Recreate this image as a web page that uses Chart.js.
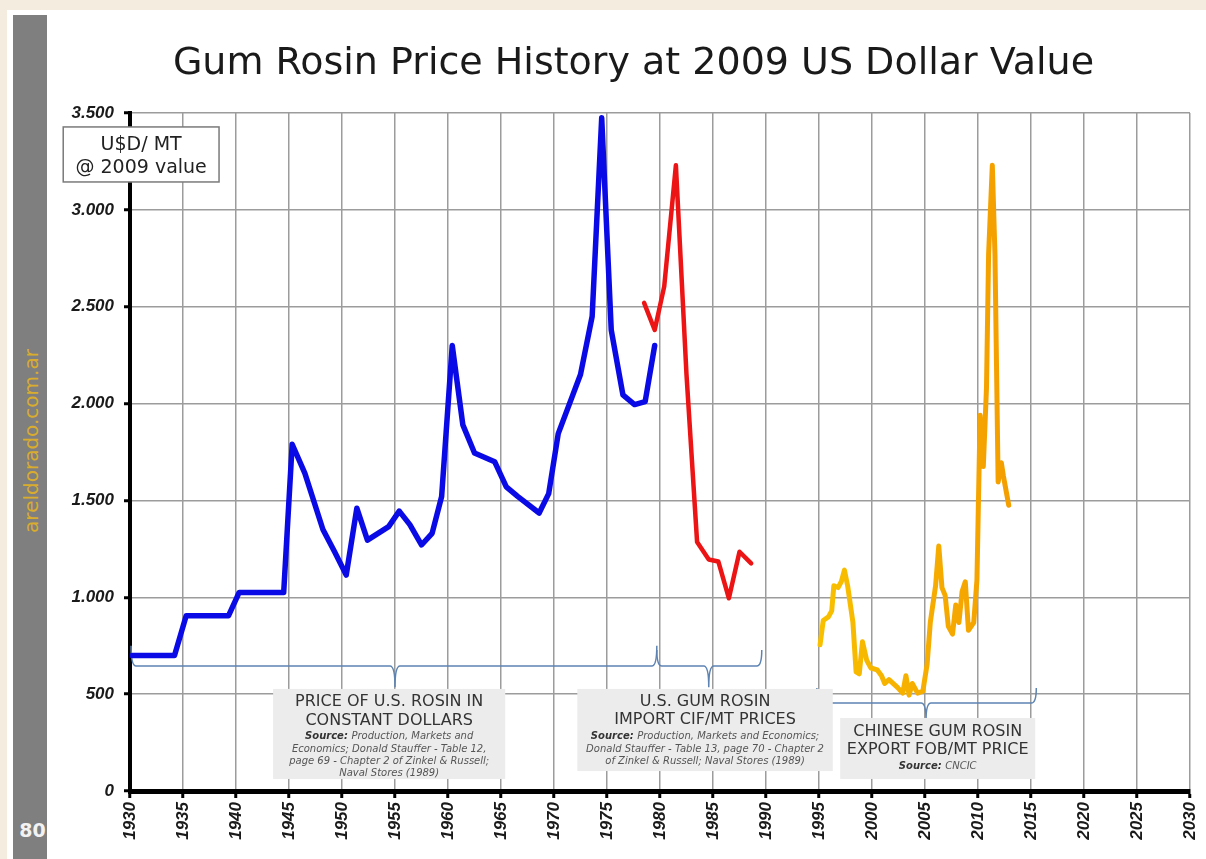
<!DOCTYPE html>
<html>
<head>
<meta charset="utf-8">
<title>Gum Rosin Price History</title>
<script src="https://cdn.jsdelivr.net/npm/chart.js@4.4.1/dist/chart.umd.min.js"></script>
<style>
  html, body { margin: 0; padding: 0; }
  body {
    width: 1206px; height: 859px; overflow: hidden; position: relative;
    background: #f3ecdf; font-family: "DejaVu Sans", Verdana, sans-serif;
  }
  #page { position: absolute; left: 7px; top: 10px; right: 0; bottom: 0; background: #fff; }
  #side { position: absolute; left: 13px; top: 15px; width: 34px; bottom: 0; background: #7f7f7f; }
  #side .site {
    position: absolute; left: 18px; top: 426px; white-space: nowrap;
    transform: translate(-50%, -50%) rotate(-90deg);
    color: #d9ac2e; font-size: 20px;
  }
  #side .num {
    position: absolute; left: 0; width: 39px; top: 804px; text-align: center;
    color: #f2f2f2; font-size: 19px; font-weight: bold;
  }
  #wrap { position: absolute; left: 61px; top: 10px; width: 1145px; height: 849px; }
</style>
</head>
<body>
<div id="page"></div>
<div id="side"><div class="site">areldorado.com.ar</div><div class="num">80</div></div>
<div id="wrap"><canvas id="chartRosin" width="1145" height="849"></canvas></div>
<script>
// Data (US$/MT at 2009 value)
const chartTitle = "Gum Rosin Price History at 2009 US Dollar Value";
const yearTicks = [1930, 1935, 1940, 1945, 1950, 1955, 1960, 1965, 1970, 1975, 1980,
  1985, 1990, 1995, 2000, 2005, 2010, 2015, 2020, 2025, 2030];
const priceTicks = [0, 500, 1000, 1500, 2000, 2500, 3000, 3500];

// US rosin, constant dollars
const usYears = [1930.2, 1934.2, 1935.3, 1939.3, 1940.3, 1944.5, 1945.3, 1946.5, 1948.2,
  1949.3, 1950.4, 1951.4, 1952.4, 1954.4, 1955.4, 1956.4, 1957.5, 1958.5, 1959.4, 1960.4,
  1961.4, 1962.5, 1964.4, 1965.5, 1966.6, 1968.6, 1969.5, 1970.4, 1972.5, 1973.6, 1974.5,
  1975.4, 1976.5, 1977.6, 1978.6, 1979.5];
const usValues = [700, 700, 905, 905, 1025, 1025, 1790, 1640, 1350,
  1235, 1115, 1460, 1295, 1365, 1445, 1375, 1270, 1330, 1520, 2300,
  1890, 1745, 1700, 1570, 1520, 1435, 1535, 1845, 2150, 2450, 3475,
  2380, 2045, 1995, 2010, 2300];

// US gum rosin import CIF
const importYears = [1978.5, 1979.5, 1980.4, 1981.5, 1982.5, 1983.5, 1984.6, 1985.5, 1986.5, 1987.5, 1988.6];
const importValues = [2520, 2380, 2605, 3230, 2150, 1285, 1195, 1185, 995, 1235, 1175];

// Chinese gum rosin export FOB
const chinaYears = [1995.1, 1995.4, 1995.9, 1996.2, 1996.4, 1996.8, 1997.1, 1997.4, 1997.7, 1998.2,
  1998.5, 1998.8, 1999.1, 1999.5, 1999.9, 2000.5, 2000.9, 2001.2, 2001.6, 2002.4,
  2002.9, 2003.2, 2003.5, 2003.8, 2004.3, 2004.8, 2005.2, 2005.5, 2006.0, 2006.3,
  2006.6, 2006.9, 2007.2, 2007.6, 2007.9, 2008.2, 2008.5, 2008.8, 2009.1, 2009.6,
  2009.9, 2010.2, 2010.5, 2010.8, 2011.0, 2011.35, 2011.6, 2011.9, 2012.2, 2012.4, 2012.9];
const chinaValues = [755, 880, 900, 930, 1060, 1050, 1080, 1140, 1060, 870,
  615, 605, 770, 675, 635, 625, 595, 555, 575, 535,
  505, 595, 495, 555, 505, 515, 655, 870, 1060, 1265,
  1050, 1010, 850, 810, 960, 870, 1030, 1080, 830, 870,
  1090, 1940, 1675, 2080, 2770, 3230, 2770, 1595, 1695, 1625, 1475];

const toPoints = (xs, ys) => xs.map((x, i) => ({ x: x, y: ys[i] }));

// Curly brackets under each series (year span, tip, value levels)
const brackets = [
  { from: 1930.1, to: 1979.7, tip: 1955.0, level: 645, ends: 750, point: 535 },
  { from: 1979.7, to: 1989.6, tip: 1984.6, level: 645, ends: 728, point: 535 },
  { from: 1994.8, to: 2015.5, tip: 2005.1, level: 454, ends: 532, point: 367 },
];

// Grey note boxes (year span, value span, lines with offset from box top)
const notes = [
  { x0: 1943.5, x1: 1965.4, top: 527, bottom: 62, lines: [
    ["h", "PRICE OF U.S. ROSIN IN", 13], ["h", "CONSTANT DOLLARS", 32],
    ["s", "Production, Markets and", 47, true], ["s", "Economics; Donald Stauffer - Table 12,", 60],
    ["s", "page 69 - Chapter 2 of Zinkel & Russell;", 72], ["s", "Naval Stores (1989)", 84] ] },
  { x0: 1972.2, x1: 1996.3, top: 527, bottom: 103, lines: [
    ["h", "U.S. GUM ROSIN", 13], ["h", "IMPORT CIF/MT PRICES", 31],
    ["s", "Production, Markets and Economics;", 47, true],
    ["s", "Donald Stauffer - Table 13, page 70 - Chapter 2", 60],
    ["s", "of Zinkel & Russell; Naval Stores (1989)", 72] ] },
  { x0: 1997.0, x1: 2015.4, top: 377, bottom: 62, lines: [
    ["h", "CHINESE GUM ROSIN", 14], ["h", "EXPORT FOB/MT PRICE", 32],
    ["s", "CNCIC", 48, true] ] },
];

function drawBracket(ctx, x0, x1, xt, yl, ye, yp) {
  const r = 5;
  ctx.beginPath();
  ctx.moveTo(x0, ye);
  ctx.quadraticCurveTo(x0, yl, x0 + r, yl);
  ctx.lineTo(xt - r, yl);
  ctx.quadraticCurveTo(xt, yl, xt, yp);
  ctx.quadraticCurveTo(xt, yl, xt + r, yl);
  ctx.lineTo(x1 - r, yl);
  ctx.quadraticCurveTo(x1, yl, x1, ye);
  ctx.stroke();
}

const notesPlugin = {
  id: "notes",
  beforeDatasetsDraw(chart) {
    const { ctx } = chart;
    const { x, y } = chart.scales;
    ctx.save();
    // title, centred on the page rather than on the canvas
    ctx.fillStyle = "#1a1a1a";
    ctx.font = '38px "DejaVu Sans"';
    ctx.textAlign = "center";
    ctx.textBaseline = "middle";
    ctx.fillText(chartTitle, 572.5, 54);

    ctx.strokeStyle = "#5d83b2";
    ctx.lineWidth = 1.5;
    brackets.forEach((b) => {
      drawBracket(ctx, x.getPixelForValue(b.from), x.getPixelForValue(b.to), x.getPixelForValue(b.tip),
        y.getPixelForValue(b.level), y.getPixelForValue(b.ends), y.getPixelForValue(b.point));
    });
    ctx.restore();
  },
  afterDatasetsDraw(chart) {
    const { ctx } = chart;
    const { x, y } = chart.scales;
    ctx.save();
    notes.forEach((n) => {
      const left = x.getPixelForValue(n.x0), right = x.getPixelForValue(n.x1);
      const top = y.getPixelForValue(n.top), bottom = y.getPixelForValue(n.bottom);
      const cx = (left + right) / 2;
      ctx.fillStyle = "#ececec";
      ctx.fillRect(left, top, right - left, bottom - top);
      ctx.textBaseline = "middle";
      n.lines.forEach(([kind, text, dy, src]) => {
        if (kind === "h") {
          ctx.font = '16px "DejaVu Sans"';
          ctx.fillStyle = "#333";
          ctx.textAlign = "center";
          ctx.fillText(text, cx, top + dy);
          return;
        }
        const bold = 'bold italic 10px "DejaVu Sans"';
        const ital = 'italic 10px "DejaVu Sans"';
        const lead = src ? "Source: " : "";
        ctx.font = bold;
        const w1 = ctx.measureText(lead).width;
        ctx.font = ital;
        const w2 = ctx.measureText(text).width;
        let sx = cx - (w1 + w2) / 2;
        ctx.textAlign = "left";
        if (lead) {
          ctx.font = bold;
          ctx.fillStyle = "#333";
          ctx.fillText(lead, sx, top + dy);
          sx += w1;
        }
        ctx.font = ital;
        ctx.fillStyle = "#555";
        ctx.fillText(text, sx, top + dy);
      });
    });

    // unit box on the y axis
    const bl = x.getPixelForValue(1923.7), br = x.getPixelForValue(1938.4);
    const bt = y.getPixelForValue(3428), bb = y.getPixelForValue(3144);
    ctx.fillStyle = "#fff";
    ctx.fillRect(bl, bt, br - bl, bb - bt);
    ctx.strokeStyle = "#7a7a7a";
    ctx.lineWidth = 1.5;
    ctx.strokeRect(bl, bt, br - bl, bb - bt);
    ctx.fillStyle = "#222";
    ctx.font = '19px "DejaVu Sans"';
    ctx.textAlign = "center";
    ctx.textBaseline = "middle";
    ctx.fillText("U$D/ MT", (bl + br) / 2, bt + 18);
    ctx.fillText("@ 2009 value", (bl + br) / 2, bt + 41);
    ctx.restore();
  },
};

const tickFont = { family: "Liberation Sans", size: 17, style: "italic", weight: "bold" };

const ctx = document.getElementById("chartRosin").getContext("2d");
new Chart(ctx, {
  type: "line",
  data: {
    datasets: [
      {
        label: "Price of U.S. rosin in constant dollars",
        data: toPoints(usYears, usValues),
        borderColor: "#0a0ae6",
        borderWidth: 5.5,
      },
      {
        label: "U.S. gum rosin import CIF/MT",
        data: toPoints(importYears, importValues),
        borderColor: "#ec1414",
        borderWidth: 4.5,
      },
      {
        label: "Chinese gum rosin export FOB/MT",
        data: toPoints(chinaYears, chinaValues),
        borderColor: (c) => {
          const { chart } = c;
          if (!chart.chartArea) return "#f5ab00";
          const x = chart.scales.x;
          const g = chart.ctx.createLinearGradient(x.getPixelForValue(1995), 0, x.getPixelForValue(2013), 0);
          g.addColorStop(0, "#f8c000");
          g.addColorStop(1, "#f49e00");
          return g;
        },
        borderWidth: 5,
      },
    ],
  },
  options: {
    responsive: false,
    animation: false,
    elements: {
      point: { radius: 0 },
      line: { tension: 0, borderJoinStyle: "round", borderCapStyle: "round" },
    },
    layout: { padding: { left: 0, right: 16, top: 103, bottom: 0 } },
    plugins: {
      legend: { display: false },
      tooltip: { enabled: false },
      title: { display: false },
    },
    scales: {
      x: {
        type: "linear",
        min: 1930,
        max: 2030,
        afterBuildTicks: (s) => { s.ticks = yearTicks.map((v) => ({ value: v })); },
        afterFit: (s) => { s.height = 68; s.paddingLeft = 0; s.paddingRight = 0; },
        ticks: {
          autoSkip: false,
          minRotation: 90,
          maxRotation: 90,
          padding: 4,
          color: "#1a1a1a",
          font: tickFont,
          callback: (v) => String(v),
        },
        grid: { color: "#9c9c9c", lineWidth: 1.5, tickLength: 7, tickColor: "#000", tickWidth: 3 },
        border: { color: "#000", width: 5 },
      },
      y: {
        min: 0,
        max: 3500,
        afterBuildTicks: (s) => { s.ticks = priceTicks.map((v) => ({ value: v })); },
        afterFit: (s) => { s.width = 69; },
        ticks: {
          padding: 10,
          color: "#1a1a1a",
          font: tickFont,
          callback: (v) => v >= 1000 ? Math.floor(v / 1000) + "." + String(v % 1000).padStart(3, "0") : String(v),
        },
        grid: { color: "#9c9c9c", lineWidth: 1.5, tickLength: 6, tickColor: "#000", tickWidth: 3 },
        border: { color: "#000", width: 4 },
      },
    },
  },
  plugins: [notesPlugin],
});
</script>
</body>
</html>
